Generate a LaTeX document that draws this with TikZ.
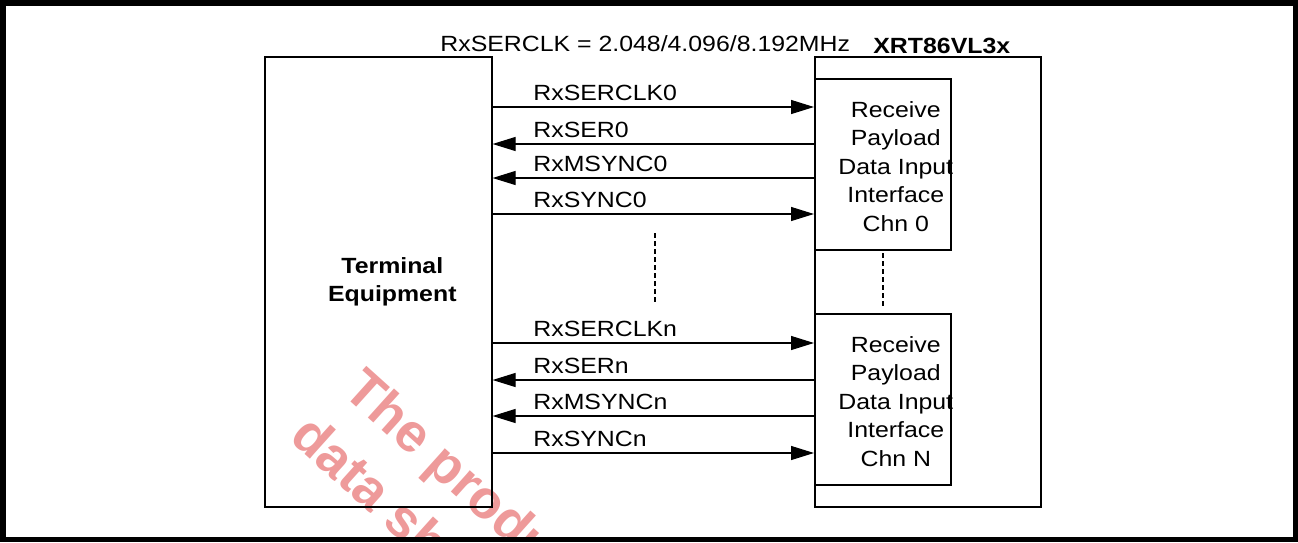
\documentclass[tikz,border=0pt]{standalone}
\usepackage{fontspec}
\setmainfont{Liberation Sans}[FakeStretch=1.13]
\newfontfamily\wmfont{Liberation Sans}
\usetikzlibrary{arrows.meta,positioning,calc}
\definecolor{wmred}{HTML}{EE9A9A}

\tikzset{
  txt/.style={font=\fontsize{11pt}{14.25pt}\selectfont},
  boldtxt/.style={font=\fontsize{11pt}{14.25pt}\selectfont\bfseries},
  blk/.style={draw,line width=0.8pt,inner sep=0pt,anchor=north west},
  sig/.style={line width=0.6pt,-{Triangle[length=11.5pt,width=7pt]}},
  lbl/.style={txt,anchor=base west,inner sep=0pt},
  wm/.style={text=wmred,font={\wmfont\bfseries\fontsize{27pt}{31pt}\selectfont},anchor=base west,inner sep=0pt,rotate=-42},
}

\begin{document}
\begin{tikzpicture}[x=0.5pt,y=-0.5pt,txt]
  \useasboundingbox (0,0) rectangle (1298,542);

  % watermark
  \begin{scope}
    \clip (5,5) rectangle (1293,537);
    \node[wm] (wm1) at (341,393) {The product};
    \node[wm] (wm2) at (288,439) {data sheet};
  \end{scope}

  % blocks
  \node[blk,minimum width=113.5pt,minimum height=225pt] (term) at (264,56) {};
  \node[blk,minimum width=113pt,minimum height=225pt] (xrt) at (814,56) {};
  \node[blk,minimum width=68pt,minimum height=85.5pt] (rx0) at (814,78) {};
  \node[blk,minimum width=68pt,minimum height=85.5pt] (rxn) at (814,313) {};

  \node[boldtxt,align=center] (termtxt) at ([xshift=7pt]term.center) {Terminal\\Equipment};
  \node[align=center] (rx0txt) at ([xshift=6.5pt,yshift=-1pt]rx0.center) {Receive\\Payload\\Data Input\\Interface\\Chn 0};
  \node[align=center] (rxntxt) at ([xshift=6.5pt,yshift=-1pt]rxn.center) {Receive\\Payload\\Data Input\\Interface\\Chn N};

  \node[lbl] (clk) at (440,51) {RxSERCLK = 2.048/4.096/8.192MHz};
  \node[lbl,boldtxt] (chip) at (873,53) {XRT86VL3x};

  % signals
  \foreach \y/\txt/\s/\t in {107/RxSERCLK0/term.east/rx0.west, 144/RxSER0/rx0.west/term.east,
      178/RxMSYNC0/rx0.west/term.east, 214/RxSYNC0/term.east/rx0.west,
      343/RxSERCLKn/term.east/rxn.west, 380/RxSERn/rxn.west/term.east,
      416/RxMSYNCn/rxn.west/term.east, 453/RxSYNCn/term.east/rxn.west} {
    \draw[sig] (\s |- 0,\y) -- (\t |- 0,\y);
    \node[lbl] (l-\txt) at (533,\y-7) {\txt};
  }

  % dots between channels
  \coordinate (d1a) at (655,233);
  \coordinate (d1b) at (655,305);
  \coordinate (d2a) at (883,253);
  \coordinate (d2b) at (883,306);
  \draw[dashed,line width=0.6pt,dash pattern=on 2.5pt off 1.5pt] (d1a) -- (d1b);
  \draw[dashed,line width=0.6pt,dash pattern=on 2.5pt off 1.5pt] (d2a) -- (d2b);

  % frame
  \draw[line width=2.75pt] (2.75,2.75) rectangle (1295.25,539.25);
\end{tikzpicture}
\end{document}
